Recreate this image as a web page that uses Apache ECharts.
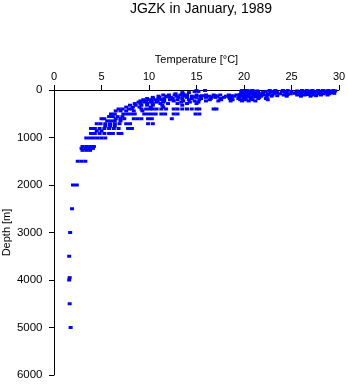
<!DOCTYPE html>
<html>
<head>
<meta charset="utf-8">
<script src="https://cdn.jsdelivr.net/npm/echarts@6/dist/echarts.min.js"></script>
<style>
    html, body { margin: 0; padding: 0; background: #fff; }
    #chart { width: 348px; height: 384px; }
</style>
</head>
<body>
<div id="chart"></div>
<script>
// sampling depths [m]
const depths = [10, 20, 30, 45, 55, 70, 80, 95, 105, 120, 130, 145, 155, 180, 205, 230, 255, 285, 320, 360, 400, 440,
    505, 560, 605, 650, 710, 760, 810, 860, 915, 1010, 1190, 1230, 1270, 1500, 2000, 2500, 3000, 3500, 3950, 4000,
    4500, 5000];

// temperatures [°C] read at each depth above
const temps = [
    [15.0, 15.9, 19.8, 20.3, 20.9, 22.7, 23.3, 24.1, 24.6, 26.1, 26.6, 27.2, 27.8, 28.3, 28.9, 29.4],
    [19.9, 20.6, 21.4, 25.6, 27.0, 28.5, 29.6],
    [14.8, 15.2, 19.7, 20.2, 20.8, 21.5, 22.3, 23.0, 24.0, 25.0, 26.2, 26.8, 27.5, 28.1, 28.7, 29.3],
    [20.0, 20.7, 22.8, 24.3, 25.8, 26.4, 27.6, 28.9],
    [13.5, 14.2, 19.8, 20.5, 21.2, 22.0, 23.5, 24.5, 25.5, 26.5, 27.2, 27.9, 28.6, 29.2],
    [20.1, 20.8, 21.5, 23.2, 25.3, 26.6, 28.0, 29.5],
    [12.8, 13.6, 19.9, 20.4, 21.0, 21.8, 22.6, 23.8, 24.9, 26.0, 26.9, 27.7, 28.4, 29.0],
    [19.6, 20.3, 21.1, 22.5, 24.6, 26.7, 27.5],
    [11.5, 12.1, 12.7, 13.3, 14.0, 15.0, 16.0, 16.8, 17.5, 18.4, 19.2, 19.9, 20.6, 21.3, 22.1, 23.0, 24.2, 25.6, 26.4, 27.3, 28.1, 28.8],
    [15.6, 17.0, 18.7, 19.6, 20.5, 21.6, 23.5, 27.6],
    [11.0, 11.8, 12.9, 13.6, 14.5, 15.4, 16.3, 17.2, 18.1, 19.0, 19.7, 20.3, 21.0, 21.8, 22.9, 24.5, 26.0, 27.0],
    [12.0, 14.8, 16.6, 18.4, 20.4, 21.2],
    [10.4, 11.1, 12.3, 13.1, 14.0, 15.0, 16.0, 17.0, 17.9, 18.7, 19.5, 20.1, 20.8, 21.6, 22.4],
    [9.8, 10.4, 11.0, 11.6, 12.5, 13.5, 14.5, 15.5, 16.5, 17.5, 18.5, 19.4, 20.0, 20.7, 21.5, 22.3],
    [9.4, 10.0, 10.7, 11.3, 12.2, 13.0, 14.2, 15.3, 16.4, 17.6, 18.8, 19.6, 20.2, 20.9, 22.5],
    [9.1, 9.7, 10.3, 10.9, 11.6, 12.6, 13.6, 14.8, 16.0, 17.3, 18.6, 19.8, 20.5, 21.2],
    [8.9, 9.5, 10.2, 10.8, 11.5, 13.4, 14.3, 15.2],
    [8.5, 9.1, 9.8, 10.4, 11.2, 12.0, 13.0, 14.0, 15.0],
    [8.0, 8.6, 9.2, 9.8, 10.4, 11.4, 13.5],
    [7.6, 8.3, 9.0, 10.2, 11.5],
    [6.8, 7.2, 7.9, 8.2, 9.2, 9.7, 10.1, 10.4, 10.8, 11.3, 11.8, 12.6, 13.0, 13.5, 14.0, 14.5, 15.0, 15.3, 16.8, 17.1],
    [6.5, 7.0, 7.6, 8.4, 9.3],
    [6.0, 6.4, 7.3, 7.7, 8.1, 8.5, 9.5, 9.9, 10.3, 10.7, 11.3, 11.7, 12.6, 13.0, 14.9, 15.3],
    [5.8, 6.2, 6.7, 7.2],
    [5.0, 5.3, 6.5, 7.0, 7.4, 8.4, 8.8, 9.2, 9.9, 10.3, 12.4],
    [5.6, 6.0, 6.4, 7.0],
    [4.5, 4.9, 5.4, 5.9, 6.4, 6.9, 7.6, 8.0, 9.9, 10.4],
    [5.4, 5.9, 6.4],
    [3.9, 4.3, 4.8, 5.3, 5.8, 6.3, 6.8, 7.8, 8.2],
    [4.5, 5.0],
    [3.9, 4.3, 4.8, 5.3, 5.8, 6.2, 6.8, 7.1],
    [3.4, 3.8, 4.2, 4.6, 5.0, 5.4],
    [3.0, 3.4, 3.8, 4.2],
    [2.9, 3.3, 3.7, 4.1],
    [3.0, 3.4, 3.8],
    [2.5, 2.9, 3.3],
    [2.0, 2.4],
    [1.9],
    [1.7],
    [1.6],
    [1.65],
    [1.6],
    [1.65],
    [1.75]
];

const font = '"Liberation Sans", Arial, sans-serif';

let points = [];
depths.forEach((d, i) => {
    temps[i].forEach(t => points.push([t, d]));
});

let chart = echarts.init(document.getElementById('chart'));
chart.setOption({
    backgroundColor: '#fff',
    animation: false,
    title: {
        text: 'JGZK in January, 1989',
        left: 196,
        top: -3,
        textAlign: 'center',
        textStyle: {
            fontFamily: font,
            fontWeight: 'normal',
            fontSize: 14,
            color: '#000'
        }
    },
    grid: {
        left: 54,
        right: 9,
        top: 90,
        bottom: 9,
        containLabel: false,
        outerBoundsMode: 'none'
    },
    xAxis: {
        type: 'value',
        position: 'top',
        min: 0,
        max: 30,
        interval: 5,
        name: 'Temperature [°C]',
        nameLocation: 'middle',
        nameGap: 25,
        nameMoveOverlap: false,
        nameTextStyle: { fontFamily: font, fontSize: 11, color: '#000' },
        axisLine: { onZero: false, lineStyle: { color: '#000', width: 1 } },
        axisTick: { length: 5, lineStyle: { color: '#000' } },
        axisLabel: { margin: 8, fontFamily: font, fontSize: 11, color: '#000' },
        splitLine: { show: false }
    },
    yAxis: {
        type: 'value',
        inverse: true,
        min: 0,
        max: 6000,
        interval: 1000,
        name: 'Depth [m]',
        nameLocation: 'middle',
        nameGap: 42,
        nameMoveOverlap: false,
        nameTextStyle: { fontFamily: font, fontSize: 11, color: '#000' },
        axisLine: { show: true, onZero: false, lineStyle: { color: '#000', width: 1 } },
        axisTick: { show: true, length: 5, lineStyle: { color: '#000' } },
        axisLabel: {
            margin: 11.5,
            fontFamily: font,
            fontSize: 11.5,
            color: '#000',
            formatter: v => String(v)
        },
        splitLine: { show: false }
    },
    series: [
        {
            type: 'scatter',
            symbol: 'rect',
            symbolSize: [4, 3],
            itemStyle: { color: '#0000ff', opacity: 1 },
            data: points
        }
    ]
});
</script>
</body>
</html>
